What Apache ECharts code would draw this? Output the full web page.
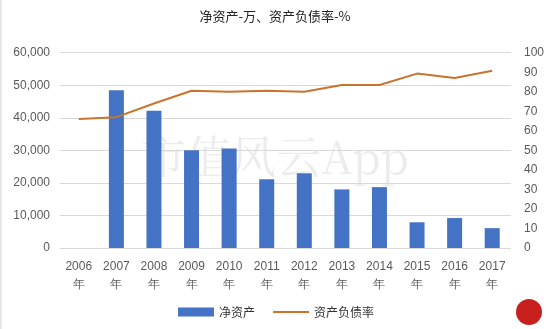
<!DOCTYPE html>
<html><head><meta charset="utf-8">
<script src="https://cdn.jsdelivr.net/npm/echarts@6/dist/echarts.min.js"></script>
<style>html,body{margin:0;padding:0;background:#fff}#c{width:550px;height:329px}</style>
</head><body><div id="c"></div>
<script>
var categories = ['2006\n年','2007\n年','2008\n年','2009\n年','2010\n年','2011\n年','2012\n年','2013\n年','2014\n年','2015\n年','2016\n年','2017\n年'];
var netAssets = [null, 48500, 42200, 30000, 30600, 21100, 23000, 18000, 18700, 7900, 9200, 6100];
var debtRatio = [66, 67, 74, 80.5, 80, 80.5, 80, 83.5, 83.5, 89.3, 87, 90.8];
var leftTicks = [0, 10000, 20000, 30000, 40000, 50000, 60000];
var rightTicks = [0,10,20,30,40,50,60,70,80,90,100];

var chart = echarts.init(document.getElementById('c'), null, {renderer:'canvas'});
var font = '"Noto Sans CJK SC", "Noto Sans", sans-serif';
var numFont = '"Liberation Sans", Arial, sans-serif';
chart.setOption({
  animation:false,
  backgroundColor:'#fff',
  title:{text:'净资产-万、资产负债率-%', left:'center', top:5,
    textStyle:{fontSize:13, fontWeight:'normal', color:'#222', fontFamily:font}},
  grid:{left:60, right:39, top:52.7, bottom:81},
  legend:[
    {left:173, top:301, itemWidth:36, itemHeight:9, itemGap:6,
     textStyle:{fontSize:12, color:'#333', fontFamily:font},
     data:[{name:'净资产', icon:'rect'}]},
    {left:268, top:301, itemWidth:36, itemHeight:2, itemGap:6,
     textStyle:{fontSize:12, color:'#333', fontFamily:font},
     data:[{name:'资产负债率', icon:'rect'}]}
  ],
  xAxis:{type:'category', data:categories,
    axisLine:{show:false}, axisTick:{show:false},
    axisLabel:{color:'#595959', fontSize:12, lineHeight:18, margin:10, fontFamily:numFont, interval:0}},
  yAxis:[
    {type:'value', min:leftTicks[0], max:leftTicks[leftTicks.length-1], interval:10000,
     axisLine:{show:false}, axisTick:{show:false},
     splitLine:{lineStyle:{color:'#d9d9d9', width:1}},
     axisLabel:{color:'#595959', fontSize:12, margin:10, fontFamily:numFont,
       formatter:function(v){return v.toLocaleString('en-US');}}},
    {type:'value', min:rightTicks[0], max:rightTicks[rightTicks.length-1], interval:10,
     axisLine:{show:false}, axisTick:{show:false}, splitLine:{show:false},
     axisLabel:{color:'#595959', fontSize:12, margin:13, fontFamily:numFont}}
  ],
  series:[
    {name:'净资产', type:'bar', data:netAssets, barWidth:15, itemStyle:{color:'#4472C4'}, yAxisIndex:0},
    {name:'资产负债率', type:'line', data:debtRatio, yAxisIndex:1, symbol:'none',
     lineStyle:{color:'#C8742E', width:2}, itemStyle:{color:'#C8742E'}}
  ],
  graphic:[
    {type:'text', left:'center', top:134, silent:true, z:-1,
     style:{text:'市值风云App', fontSize:45, fill:'rgba(170,170,170,0.22)', fontFamily:'"Noto Serif CJK SC", "Noto Sans CJK SC", serif'}},
    {type:'circle', shape:{cx:529, cy:312, r:13}, style:{fill:'#C8201E'}},
    {type:'rect', shape:{x:0, y:0, width:2, height:329}, style:{fill:'#e6e6e6'}}
  ]
});
</script></body></html>
